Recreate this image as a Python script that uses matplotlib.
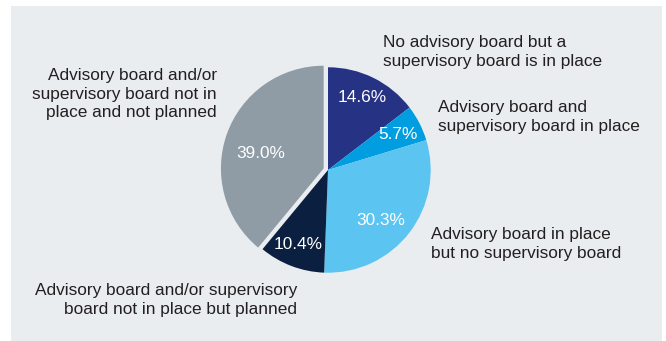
import matplotlib
matplotlib.use('Agg')
import matplotlib.pyplot as plt
from matplotlib.patches import Rectangle

plt.rcParams['font.family'] = ['Liberation Sans', 'DejaVu Sans']

# share of companies by board setup, clockwise from 12 o'clock
shares = [14.6, 5.7, 30.3, 10.4, 39.0]
labels = [
    'No advisory board but a\nsupervisory board is in place',
    'Advisory board and\nsupervisory board in place',
    'Advisory board in place\nbut no supervisory board',
    'Advisory board and/or supervisory\nboard not in place but planned',
    'Advisory board and/or\nsupervisory board not in\nplace and not planned',
]
colors = ['#263284', '#009ee0', '#5bc4f1', '#0b1f41', '#8f9ba5']
explode = [0, 0, 0, 0, 0.045]

W, H = 666, 341
fig = plt.figure(figsize=(W / 100, H / 100), dpi=100)
fig.patch.set_facecolor('white')
fig.patches.append(Rectangle((11 / W, 0), 651 / W, 335 / H, transform=fig.transFigure,
                             facecolor='#e9edf0', edgecolor='none', zorder=-1))

# pie placed by pixel centre and radius
cx, cy, r = 328, 170, 107
side = 2.4 * r
ax = fig.add_axes([(cx - side / 2) / W, (H - cy - side / 2) / H, side / W, side / H])
ax.set_xlim(-1.2, 1.2)
ax.set_ylim(-1.2, 1.2)
ax.set_aspect('equal')
ax.axis('off')
ax.patch.set_alpha(0)

wedges, texts, autotexts = ax.pie(
    shares, colors=colors, explode=explode, startangle=90, counterclock=False,
    autopct='%.1f%%', pctdistance=0.77,
    textprops={'color': 'white', 'fontsize': 12.4},
    wedgeprops={'linewidth': 0})

# nudge the percentage labels (pixel positions, y from top)
pct_spots = [(364, 94), (401, 133), (383, 223), (297, 248), (258, 153)]
for t, (x, y) in zip(autotexts, pct_spots):
    t.set_position(((x - cx) / r, (cy - y) / r))

# category labels around the pie (pixel positions, y from top)
spots = [(383, 52, 'left'), (438, 117, 'left'), (431, 244, 'left'),
         (297, 300, 'right'), (217, 94, 'right')]
for (x, y, ha), lab in zip(spots, labels):
    fig.text(x / W, (H - y) / H, lab, ha=ha, va='center', multialignment=ha,
             fontsize=12.4, color='#231f20', linespacing=1.3)

fig.savefig('out.png', dpi=100)
